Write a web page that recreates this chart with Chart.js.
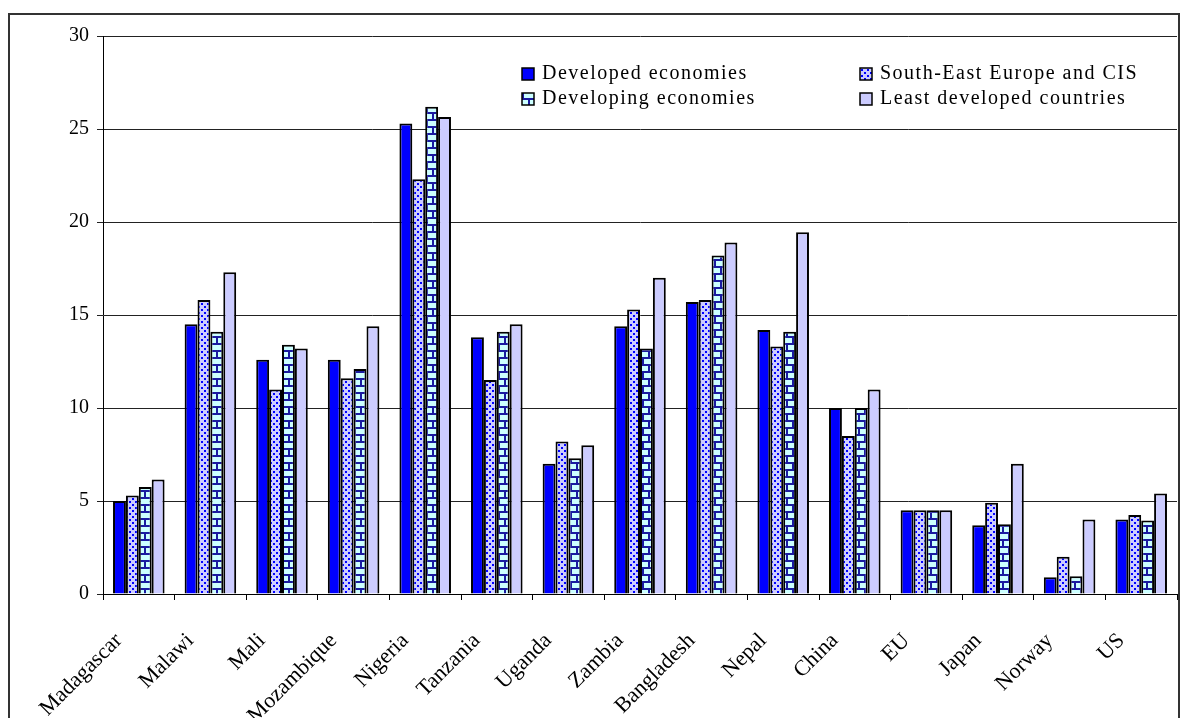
<!DOCTYPE html>
<html>
<head>
<meta charset="utf-8">
<script src="https://cdn.jsdelivr.net/npm/chart.js@4.4.1/dist/chart.umd.min.js"></script>
<style>
  html, body { margin: 0; padding: 0; background: #fff; }
  #wrap { position: relative; width: 1185px; height: 718px; overflow: hidden; }
  #frame { position: absolute; left: 8px; top: 13px; width: 1168px; height: 740px; border: 2px solid #333; }
  #chart { position: absolute; left: 0; top: 0; }
</style>
</head>
<body>
<div id="wrap">
  <div id="frame"></div>
  <canvas id="chart" width="1185" height="718"></canvas>
</div>
<script>
// values
const countries = ['Madagascar', 'Malawi', 'Mali', 'Mozambique', 'Nigeria', 'Tanzania', 'Uganda',
  'Zambia', 'Bangladesh', 'Nepal', 'China', 'EU', 'Japan', 'Norway', 'US'];
const seriesNames = ['Developed economies', 'South-East Europe and CIS', 'Developing economies', 'Least developed countries'];
const developed   = [5.0, 14.5, 12.6, 12.6, 25.3, 13.8, 7.0, 14.4, 15.7, 14.2, 10.0, 4.5, 3.7, 0.9, 4.0];
const seeCis      = [5.3, 15.8, 11.0, 11.6, 22.3, 11.5, 8.2, 15.3, 15.8, 13.3, 8.5, 4.5, 4.9, 2.0, 4.25];
const developing  = [5.75, 14.1, 13.4, 12.1, 26.2, 14.1, 7.3, 13.2, 18.2, 14.1, 10.0, 4.5, 3.75, 0.95, 3.95];
const leastDev    = [6.15, 17.3, 13.2, 14.4, 25.65, 14.5, 8.0, 17.0, 18.9, 19.45, 11.0, 4.5, 7.0, 4.0, 5.4];
const yTicks = [0, 5, 10, 15, 20, 25, 30];

const FONT = '"Liberation Serif", "Times New Roman", serif';

function makePattern(w, h, draw) {
  const c = document.createElement('canvas');
  c.width = w; c.height = h;
  draw(c.getContext('2d'));
  return document.getElementById('chart').getContext('2d').createPattern(c, 'repeat');
}

// lavender with blue dots
const dotPattern = makePattern(6, 6, g => {
  g.fillStyle = '#ccccff'; g.fillRect(0, 0, 6, 6);
  g.fillStyle = '#0000ff';
  g.fillRect(0, 0, 2, 2);
  g.fillRect(3, 3, 2, 2);
});

// light cyan bricks with dark blue mortar
const brickPattern = makePattern(12, 14, g => {
  g.fillStyle = '#ccffff'; g.fillRect(0, 0, 12, 14);
  g.fillStyle = '#1a1aa0';
  g.fillRect(0, 0, 12, 2);
  g.fillRect(0, 7, 12, 2);
  g.fillRect(0, 0, 2, 7);
  g.fillRect(6, 7, 2, 7);
});

const fills = ['#0000ff', dotPattern, brickPattern, '#ccccff'];
const values = [developed, seeCis, developing, leastDev];

const legendX = [522, 860];
const legendY = [73, 98];

const cornerLegend = {
  id: 'cornerLegend',
  afterDraw(chart) {
    const ctx = chart.ctx;
    ctx.save();
    ctx.font = '20px ' + FONT;
    ctx.letterSpacing = '1.5px';
    ctx.textBaseline = 'middle';
    chart.data.datasets.forEach((ds, i) => {
      const x = legendX[i % 2], y = legendY[Math.floor(i / 2)];
      ctx.fillStyle = ds.backgroundColor;
      ctx.fillRect(x, y - 5, 12, 12);
      ctx.strokeStyle = '#000'; ctx.lineWidth = 1.5;
      ctx.strokeRect(x, y - 5, 12, 12);
      ctx.fillStyle = '#000';
      ctx.fillText(ds.label, x + 20, y + 1);
    });
    ctx.restore();
  }
};

new Chart(document.getElementById('chart'), {
  type: 'bar',
  data: {
    labels: countries,
    datasets: seriesNames.map((name, i) => ({
      label: name,
      data: values[i],
      backgroundColor: fills[i],
      borderColor: '#000',
      borderWidth: 2,
      categoryPercentage: 0.72,
      barPercentage: 1.0
    }))
  },
  options: {
    responsive: false,
    animation: false,
    layout: { padding: { left: 0, top: 36, right: 8, bottom: 0 } },
    plugins: { legend: { display: false }, tooltip: { enabled: false } },
    scales: {
      x: {
        afterFit: s => { s.height = 124; s.paddingLeft = 0; s.paddingRight = 0; },
        grid: { drawOnChartArea: false, color: '#000', tickLength: 6, offset: true },
        border: { color: '#000', width: 1 },
        ticks: {
          color: '#000', font: { family: FONT, size: 22 },
          maxRotation: 45, minRotation: 45, labelOffset: -20, padding: 28
        }
      },
      y: {
        min: 0, max: 30,
        afterFit: s => { s.width = 103; },
        afterBuildTicks: s => { s.ticks = yTicks.map(v => ({ value: v })); },
        grid: { color: '#222', lineWidth: 1, tickLength: 6 },
        border: { color: '#000', width: 1 },
        ticks: { color: '#000', font: { family: FONT, size: 20 }, padding: 8 }
      }
    }
  },
  plugins: [cornerLegend]
});
</script>
</body>
</html>
